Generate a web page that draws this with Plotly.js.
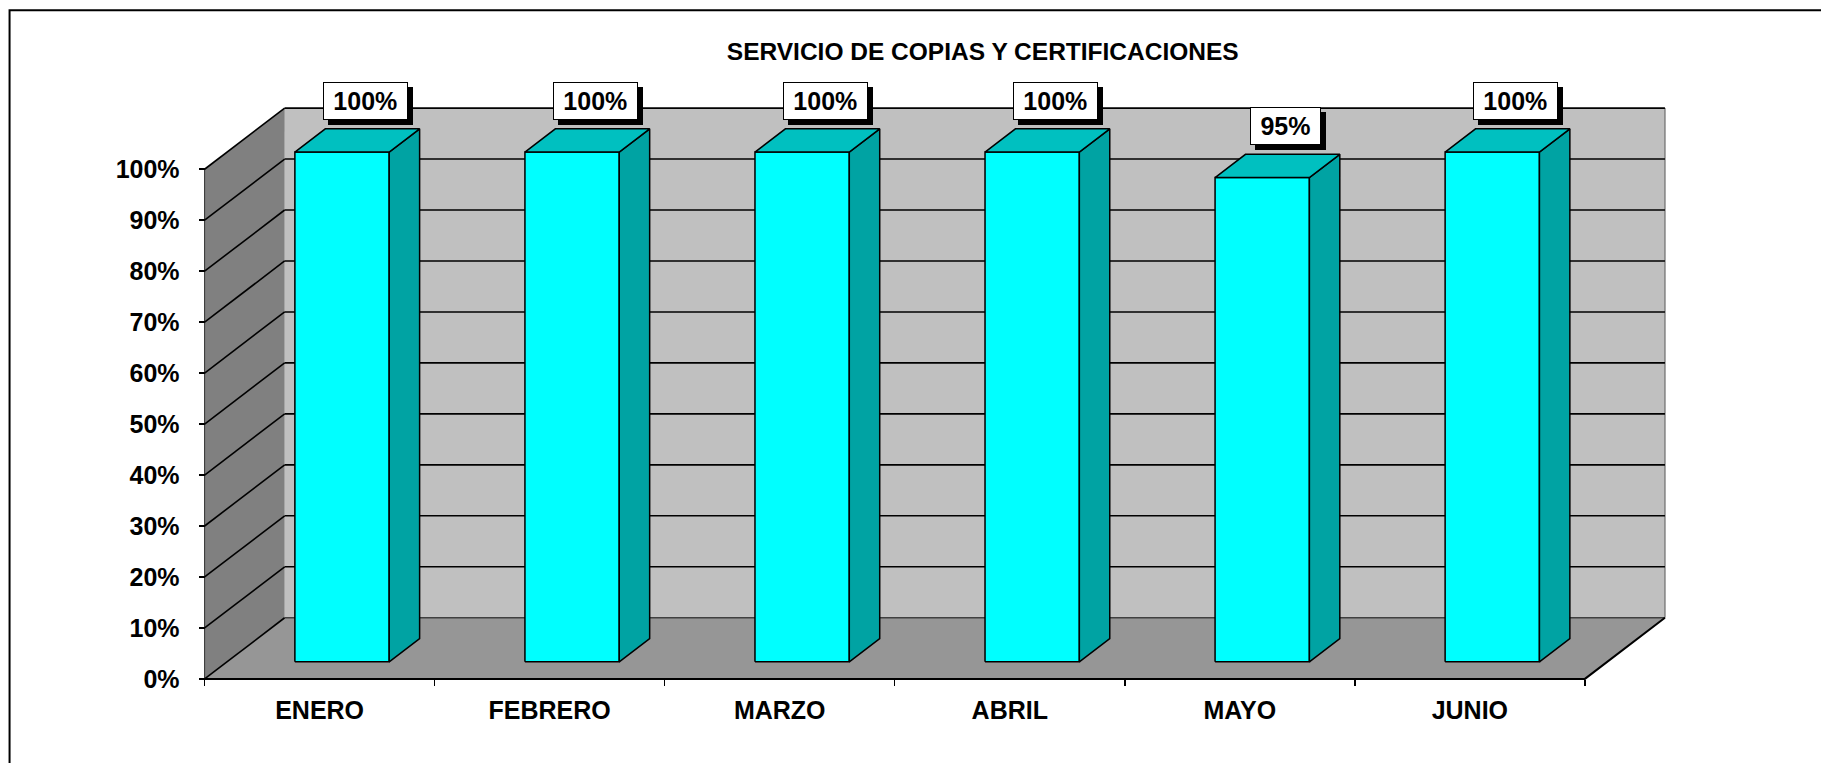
<!DOCTYPE html>
<html>
<head>
<meta charset="utf-8">
<script src="https://cdn.plot.ly/plotly-3.0.1.min.js"></script>
<style>
  html, body { margin: 0; padding: 0; background: #fff; }
  #grafico { width: 1821px; height: 763px; }
</style>
</head>
<body>
<div id="grafico"></div>
<script>
// DATOS
var meses = ['ENERO', 'FEBRERO', 'MARZO', 'ABRIL', 'MAYO', 'JUNIO'];
var porcentajes = [100, 100, 100, 100, 95, 100];
var ticksY = [0, 10, 20, 30, 40, 50, 60, 70, 80, 90, 100];
var etiquetasY = ['0%', '10%', '20%', '30%', '40%', '50%', '60%', '70%', '80%', '90%', '100%'];

// escala en pixeles (1 categoria = 230px, 1% = 5.1px)
var pxCat = 230, pxPct = 5.1;
var rangoX = [-0.02, 6.37], rangoY = [-1, 112.8];
var ejeX0 = 205, ejeY0 = 679;   // donde cae el origen en la pagina

// perspectiva: desplazamiento de la profundidad en unidades de los ejes
var PX = 0.348, PY = 12;
var F0 = 0.28, F1 = 0.66;   // frente y fondo de las barras
var ANCHO = 0.205;          // medio ancho de barra

var fuente = 'Arial, "Liberation Sans", sans-serif';

function p(c, v, f) { return [c + f * PX, v + f * PY]; }

var trazas = [];
function poligono(puntos, relleno, color, grosor) {
  var xs = puntos.map(function (q) { return q[0]; });
  var ys = puntos.map(function (q) { return q[1]; });
  xs.push(xs[0]); ys.push(ys[0]);
  trazas.push({
    x: xs, y: ys, type: 'scatter', mode: 'lines', fill: 'toself',
    fillcolor: relleno, line: { color: color, width: grosor },
    hoverinfo: 'skip', showlegend: false
  });
}
function linea(puntos, color, grosor) {
  trazas.push({
    x: puntos.map(function (q) { return q[0]; }),
    y: puntos.map(function (q) { return q[1]; }),
    type: 'scatter', mode: 'lines', line: { color: color, width: grosor },
    hoverinfo: 'skip', showlegend: false
  });
}

var n = meses.length;

// paredes y piso
poligono([p(0, 0, 1), p(n, 0, 1), p(n, 100, 1), p(0, 100, 1)], '#c0c0c0', '#c0c0c0', 0);
poligono([p(0, 0, 0), p(0, 0, 1), p(0, 100, 1), p(0, 100, 0)], '#808080', '#808080', 0);
poligono([p(0, 0, 0), p(n, 0, 0), p(n, 0, 1), p(0, 0, 1)], '#969696', '#969696', 0);
linea([p(n, 0, 1), p(n, 100, 1)], '#808080', 1.5);

// lineas de division
for (var k = 0; k < ticksY.length; k++) {
  var v = ticksY[k];
  linea([p(0, v, 0), p(0, v, 1)], '#000', 1.6);
  linea([p(0, v, 1), p(n, v, 1)], v == 0 ? '#404040' : '#000', 1.6);
}
linea([p(0, 0, 0), p(0, 100, 0)], '#303030', 1);
linea([p(0, 0, 0), p(n, 0, 0), p(n, 0, 1)], '#000', 2);

// barras y etiquetas de valor (caja blanca con sombra negra)
var notas = [];
for (var i = 0; i < n; i++) {
  var c = i + 0.5, val = porcentajes[i];
  poligono([p(c - ANCHO, 0, F0), p(c + ANCHO, 0, F0), p(c + ANCHO, val, F0), p(c - ANCHO, val, F0)], '#00ffff', '#000', 1.5);
  poligono([p(c + ANCHO, 0, F0), p(c + ANCHO, 0, F1), p(c + ANCHO, val, F1), p(c + ANCHO, val, F0)], '#00a3a3', '#000', 1.5);
  poligono([p(c - ANCHO, val, F0), p(c + ANCHO, val, F0), p(c + ANCHO, val, F1), p(c - ANCHO, val, F1)], '#00c0c0', '#000', 1.5);

  var pt = p(c, val, F1);
  var txt = val + '%';
  var anchoCaja = String(val).length * 13.9 + 37;
  notas.push({
    x: pt[0], y: pt[1], xref: 'x', yref: 'y', text: '\u00a0', showarrow: false,
    xanchor: 'center', yanchor: 'bottom', xshift: -2, yshift: 4,
    width: anchoCaja, height: 32,
    font: { family: fuente, size: 25, color: '#000' },
    bgcolor: '#000', bordercolor: '#000', borderwidth: 1, borderpad: 2
  });
  notas.push({
    x: pt[0], y: pt[1], xref: 'x', yref: 'y', text: '<b>' + txt + '</b>', showarrow: false,
    xanchor: 'center', yanchor: 'bottom', xshift: -7, yshift: 9,
    width: anchoCaja, height: 32, align: 'center', valign: 'middle',
    font: { family: fuente, size: 25, color: '#000' },
    bgcolor: '#fff', bordercolor: '#000', borderwidth: 1, borderpad: 2
  });
}

// eje de categorias: marcas en los limites y nombres en el centro
var marcasX = [], centrosX = [], nombresX = [];
for (var i = 0; i <= n; i++) marcasX.push(i);
for (var i = 0; i < n; i++) { centrosX.push(i + 0.5); nombresX.push('<b>' + meses[i] + '</b>'); }

var izq = ejeX0 - (0 - rangoX[0]) * pxCat;
var anchoPlot = (rangoX[1] - rangoX[0]) * pxCat;
var abajo = ejeY0 + (0 - rangoY[0]) * pxPct;
var altoPlot = (rangoY[1] - rangoY[0]) * pxPct;
var posX = (0 - rangoY[0]) / (rangoY[1] - rangoY[0]);
var posY = (0 - rangoX[0]) / (rangoX[1] - rangoX[0]);

var layout = {
  width: 1821, height: 763,
  paper_bgcolor: '#fff', plot_bgcolor: 'rgba(0,0,0,0)',
  margin: { l: izq, r: 1821 - izq - anchoPlot, t: abajo - altoPlot, b: 763 - abajo, pad: 0 },
  showlegend: false,
  font: { family: fuente, color: '#000' },
  title: {
    text: '<b>SERVICIO DE COPIAS Y CERTIFICACIONES</b>',
    font: { family: fuente, size: 24.5, color: '#000' },
    xref: 'paper', x: (983 - izq) / anchoPlot, xanchor: 'center',
    yref: 'container', y: 1 - 51 / 763, yanchor: 'middle'
  },
  xaxis: {
    range: rangoX, anchor: 'free', position: posX,
    tickvals: marcasX, ticktext: marcasX.map(function () { return ''; }),
    ticks: 'outside', ticklen: 6, tickwidth: 1.5, tickcolor: '#000',
    showgrid: false, zeroline: false, showline: false, fixedrange: true
  },
  xaxis2: {
    range: rangoX, overlaying: 'x', anchor: 'free', position: posX, side: 'bottom',
    tickvals: centrosX, ticktext: nombresX, ticks: '', ticklabelstandoff: 14,
    tickfont: { family: fuente, size: 25, color: '#000' },
    showgrid: false, zeroline: false, showline: false, fixedrange: true
  },
  yaxis: {
    range: rangoY, anchor: 'free', position: posY,
    tickvals: ticksY, ticktext: etiquetasY.map(function (t) { return '<b>' + t + '</b>'; }),
    ticks: 'outside', ticklen: 6, tickwidth: 1.5, tickcolor: '#000', ticklabelstandoff: 14,
    tickfont: { family: fuente, size: 25, color: '#000' },
    showgrid: false, zeroline: false, showline: false, fixedrange: true
  },
  annotations: notas,
  shapes: [{
    type: 'rect', xref: 'paper', yref: 'paper', layer: 'below',
    x0: (10 - izq) / anchoPlot, x1: 1.3,
    y0: -0.5, y1: (abajo - 10) / altoPlot,
    line: { color: '#000', width: 2 }, fillcolor: 'rgba(0,0,0,0)'
  }]
};

// trazo vacio para activar el segundo eje x
trazas.push({ x: [0], y: [0], xaxis: 'x2', type: 'scatter', mode: 'none', hoverinfo: 'skip', showlegend: false });

Plotly.newPlot('grafico', trazas, layout, { displayModeBar: false, staticPlot: true });
</script>
</body>
</html>
